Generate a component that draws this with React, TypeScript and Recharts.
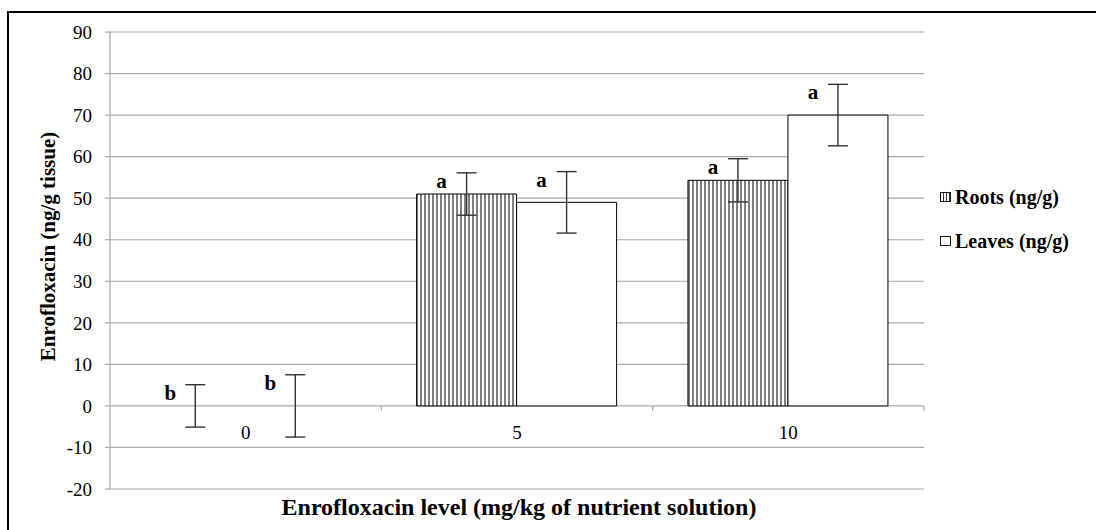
import React from 'react';
import { BarChart, Bar, XAxis, YAxis, CartesianGrid, ErrorBar, LabelList, Cell } from 'recharts';

// enrofloxacin concentration in tissue by nutrient-solution level
const categories = ['0', '5', '10'];
const rootsValues = [0, 51, 54.3];
const leavesValues = [0, 49, 70];
const rootsErrors = [5.1, 5.1, 5.2];
const leavesErrors = [7.5, 7.4, 7.4];
const rootsLetters = ['b', 'a', 'a'];
const leavesLetters = ['b', 'a', 'a'];
const yTicks = [-20, -10, 0, 10, 20, 30, 40, 50, 60, 70, 80, 90];

const W = 1096;
const H = 530;
const MARGIN = { top: 32, right: 172, bottom: 0, left: 50 };
const Y_AXIS_W = 60;
const X_AXIS_H = 41;
const PLOT_H = H - MARGIN.top - MARGIN.bottom - X_AXIS_H;
const PLOT_W = W - MARGIN.left - MARGIN.right - Y_AXIS_W;
const Y_MIN = -20;
const Y_MAX = 90;
const PX_PER_UNIT = PLOT_H / (Y_MAX - Y_MIN);
const ZERO_Y = MARGIN.top + Y_MAX * PX_PER_UNIT;
const BAND = PLOT_W / categories.length;

const FONT = '"Liberation Serif", "Times New Roman", serif';
const GRID = '#a8a8a8';

const data = categories.map((c, i) => ({
  level: c,
  roots: rootsValues[i],
  leaves: leavesValues[i],
  rootsErr: rootsErrors[i],
  leavesErr: leavesErrors[i],
}));

// category labels sit under the zero line, with ticks at the category boundaries
const CategoryTick = (props: any) => {
  const { x, payload } = props;
  return (
    <g>
      <text x={x} y={ZERO_Y + 33} textAnchor="middle" fontFamily={FONT} fontSize={19} fill="#000">
        {payload.value}
      </text>
      <line x1={x + BAND / 2} x2={x + BAND / 2} y1={ZERO_Y} y2={ZERO_Y + 5} stroke={GRID} strokeWidth={1.2} />
    </g>
  );
};

// significance letter to the upper left of each whisker
const letterLabel = (letters: string[], errors: number[]) => (props: any) => {
  const { x, y, width, index } = props;
  const errTop = y - errors[index] * PX_PER_UNIT;
  return (
    <text
      x={x + width / 2 - 25}
      y={errTop + 15}
      textAnchor="middle"
      fontFamily={FONT}
      fontWeight="bold"
      fontSize={21}
      fill="#000"
    >
      {letters[index]}
    </text>
  );
};

const legendItems = [
  { name: 'Roots (ng/g)', hatched: true },
  { name: 'Leaves (ng/g)', hatched: false },
];

const ChartLegend = () => (
  <div
    style={{
      position: 'absolute',
      left: 939,
      top: 185,
      fontFamily: FONT,
      fontWeight: 'bold',
      fontSize: 20,
      lineHeight: '24px',
      color: '#000',
    }}
  >
    {legendItems.map((item, i) => (
      <div key={item.name} style={{ display: 'flex', alignItems: 'center', marginBottom: i === 0 ? 20 : 0 }}>
        <svg width={14} height={12} style={{ marginRight: 2 }}>
          <defs>
            <pattern id="legendHatch" width={3} height={3} patternUnits="userSpaceOnUse">
              <rect width={3} height={3} fill="#fff" />
              <line x1={1.5} x2={1.5} y1={0} y2={3} stroke="#000" strokeWidth={0.8} />
            </pattern>
          </defs>
          <rect
            x={1.5}
            y={1.5}
            width={10}
            height={9}
            fill={item.hatched ? 'url(#legendHatch)' : '#fff'}
            stroke="#000"
            strokeWidth={0.9}
          />
        </svg>
        <span>{item.name}</span>
      </div>
    ))}
  </div>
);

export default function App() {
  return (
    <div style={{ position: 'absolute', left: 0, top: 0, width: W, height: H, background: '#fff', overflow: 'hidden' }}>
      <div
        style={{
          position: 'absolute',
          left: 7,
          top: 11,
          width: W,
          height: H,
          borderTop: '2px solid #000',
          borderLeft: '2px solid #000',
        }}
      />
      <div style={{ position: 'absolute', left: 0, top: 0 }}>
        <BarChart width={W} height={H} data={data} margin={MARGIN} barCategoryGap="13%" barGap={0}>
          <defs>
            <pattern id="vHatch" width={4} height={4} patternUnits="userSpaceOnUse">
              <rect width={4} height={4} fill="#fff" />
              <line x1={1} x2={1} y1={0} y2={4} stroke="#000" strokeWidth={1} />
            </pattern>
          </defs>
          <CartesianGrid vertical={false} stroke={GRID} strokeWidth={1.2} />
          <XAxis
            dataKey="level"
            height={X_AXIS_H}
            axisLine={false}
            tickLine={false}
            interval={0}
            tick={<CategoryTick />}
            label={() => (
              <text
                x={MARGIN.left + Y_AXIS_W + PLOT_W / 2 + 2}
                y={H - 15}
                textAnchor="middle"
                fontFamily={FONT}
                fontWeight="bold"
                fontSize={24}
                fill="#000"
              >
                Enrofloxacin level (mg/kg of nutrient solution)
              </text>
            )}
          />
          <YAxis
            width={Y_AXIS_W}
            domain={[Y_MIN, Y_MAX]}
            ticks={yTicks}
            interval={0}
            axisLine={{ stroke: GRID, strokeWidth: 1.2 }}
            tickLine={{ stroke: GRID, strokeWidth: 1.2 }}
            tickSize={5}
            tickMargin={13}
            tick={{ fontFamily: FONT, fontSize: 19, fill: '#000' }}
            label={() => {
              const cx = 48;
              const cy = MARGIN.top + PLOT_H / 2 - 14;
              return (
                <text
                  x={cx}
                  y={cy}
                  transform={`rotate(-90 ${cx} ${cy})`}
                  textAnchor="middle"
                  dominantBaseline="central"
                  fontFamily={FONT}
                  fontWeight="bold"
                  fontSize={21}
                  fill="#000"
                >
                  Enrofloxacin (ng/g tissue)
                </text>
              );
            }}
          />
          <Bar
            dataKey="roots"
            fill="url(#vHatch)"
            stroke="#000"
            strokeWidth={1}
            minPointSize={0.01}
            isAnimationActive={false}
          >
            {rootsValues.map((v, i) => (
              <Cell key={i} stroke={v === 0 ? 'none' : '#000'} />
            ))}
            <ErrorBar dataKey="rootsErr" width={10} stroke="#333" strokeWidth={1.4} direction="y" />
            <LabelList dataKey="roots" content={letterLabel(rootsLetters, rootsErrors)} />
          </Bar>
          <Bar
            dataKey="leaves"
            fill="#fff"
            stroke="#000"
            strokeWidth={1}
            minPointSize={0.01}
            isAnimationActive={false}
          >
            {leavesValues.map((v, i) => (
              <Cell key={i} stroke={v === 0 ? 'none' : '#000'} />
            ))}
            <ErrorBar dataKey="leavesErr" width={10} stroke="#333" strokeWidth={1.4} direction="y" />
            <LabelList dataKey="leaves" content={letterLabel(leavesLetters, leavesErrors)} />
          </Bar>
        </BarChart>
      </div>
      <ChartLegend />
    </div>
  );
}
